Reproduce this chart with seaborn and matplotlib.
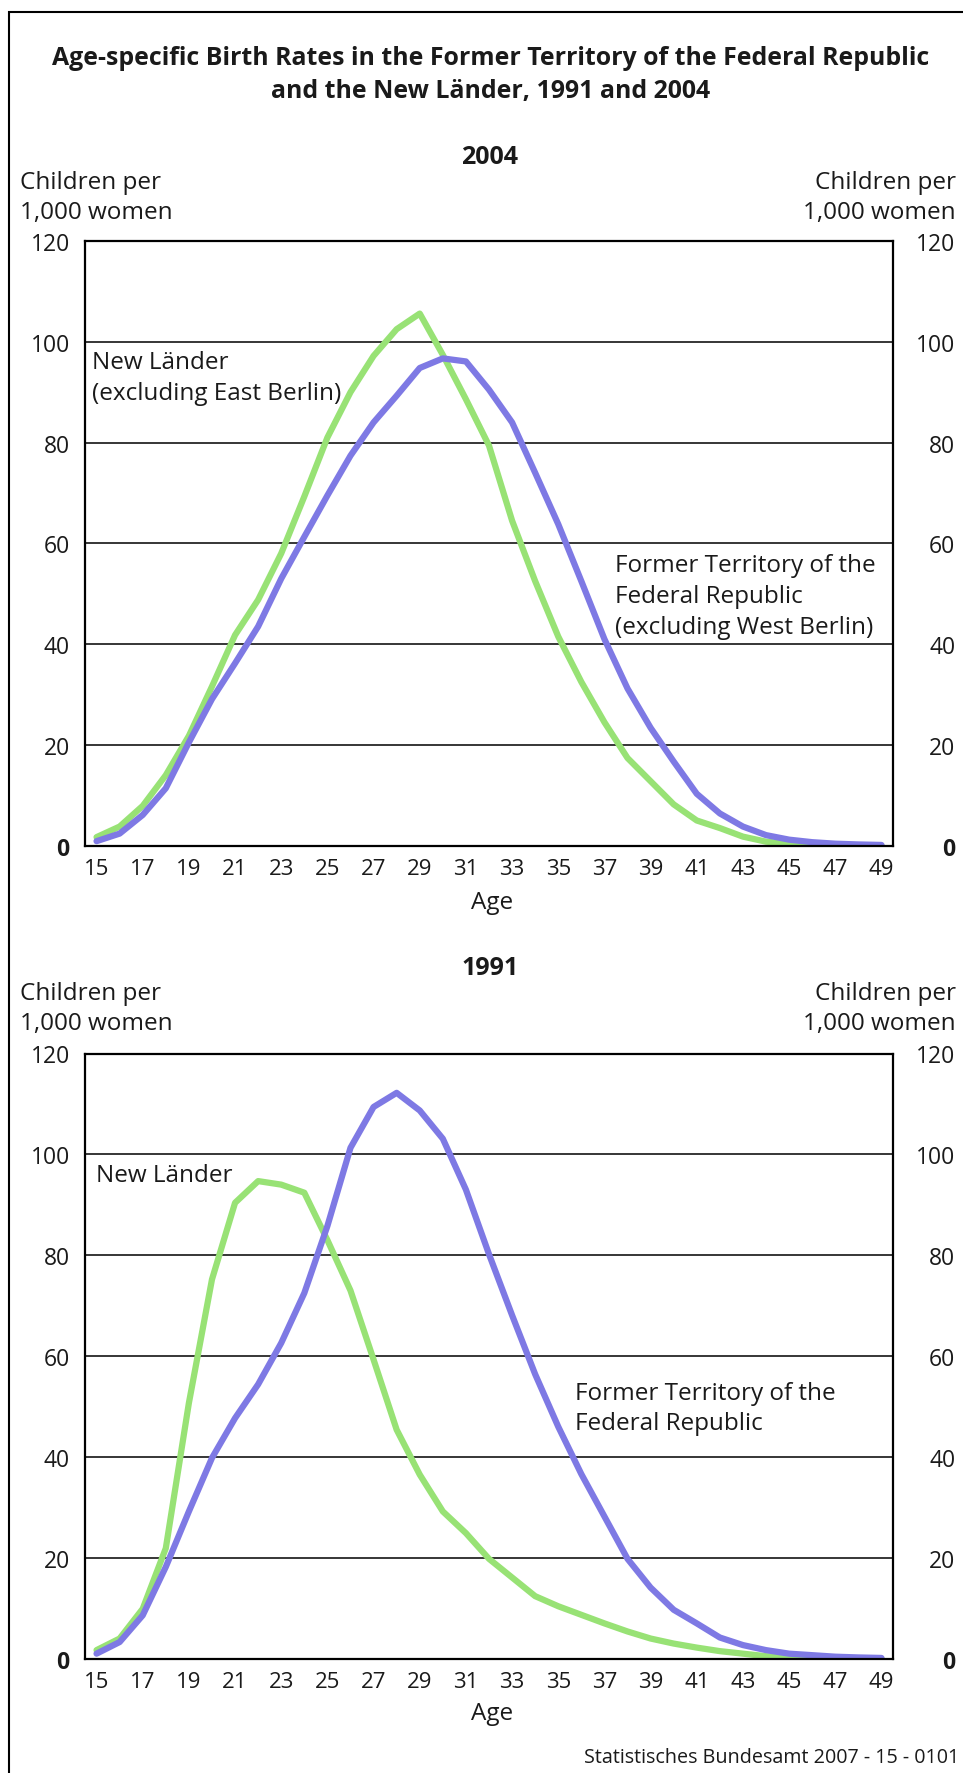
"""
Age-specific birth rates, former territory vs. new Laender, 1991 and 2004.
Two stacked line panels in the Destatis style, saved to out.png.
"""
import matplotlib

matplotlib.use("Agg")
import matplotlib.pyplot as plt
import pandas as pd
import seaborn as sns

AGES = list(range(15, 50))

# children per 1,000 women
NEW_2004 = [1.7, 3.8, 7.9, 14.0, 21.8, 31.6, 41.8, 48.8, 58.0, 69.3,
            81.0, 90.0, 97.2, 102.5, 105.6, 97.4, 88.6, 79.4, 64.5, 52.5,
            41.5, 32.5, 24.5, 17.4, 12.8, 8.2, 5.0, 3.5, 1.8, 0.8,
            0.4, 0.2, 0.1, 0.05, 0.02]
FORMER_2004 = [0.9, 2.4, 6.1, 11.4, 20.5, 29.1, 36.2, 43.5, 53.0, 61.3,
               69.5, 77.4, 84.0, 89.3, 94.8, 96.7, 96.1, 90.5, 84.0, 74.0,
               63.8, 52.5, 41.0, 31.2, 23.4, 16.7, 10.3, 6.4, 3.8, 2.1,
               1.2, 0.7, 0.4, 0.25, 0.15]
NEW_1991 = [1.7, 4.0, 9.9, 21.9, 50.7, 75.2, 90.4, 94.7, 94.0, 92.4,
            83.0, 73.0, 59.3, 45.4, 36.5, 29.2, 24.9, 19.8, 16.1, 12.4,
            10.4, 8.7, 7.0, 5.4, 4.0, 3.0, 2.2, 1.5, 1.0, 0.5,
            0.3, 0.15, 0.1, 0.05, 0.02]
FORMER_1991 = [1.0, 3.3, 8.6, 18.2, 29.2, 39.8, 47.7, 54.4, 62.6, 72.5,
               85.8, 101.3, 109.4, 112.2, 108.7, 103.1, 93.0, 80.2, 68.1, 56.4,
               46.0, 36.6, 28.2, 19.8, 14.1, 9.7, 7.0, 4.2, 2.7, 1.7,
               1.0, 0.7, 0.4, 0.25, 0.15]

Y_TICKS = [0, 20, 40, 60, 80, 100, 120]
X_LABEL_AGES = [a for a in AGES if a % 2 == 1]

GREEN = "#98E275"
BLUE = "#7E79E4"
INK = "#1a1a1a"
TXT = 17.5

W, H = 963, 1774


def fx(x):
    return x / W


def fy(y):
    return 1 - y / H


def draw_panel(ax, new_vals, former_vals):
    df = pd.DataFrame({
        "age": AGES * 2,
        "rate": new_vals + former_vals,
        "region": ["new"] * len(AGES) + ["former"] * len(AGES),
    })
    sns.lineplot(data=df, x="age", y="rate", hue="region",
                 hue_order=["new", "former"], palette=[GREEN, BLUE],
                 linewidth=4.5, legend=False, ax=ax)

    ax.set_xlim(14.5, 49.5)
    ax.set_ylim(0, 120)
    ax.set_xlabel("")
    ax.set_ylabel("")

    # tick marks sit on the category edges, long and short in turn
    edges = [a - 0.5 for a in AGES] + [49.5]
    ax.set_xticks(edges[0::2])
    ax.set_xticks(edges[1::2], minor=True)
    ax.tick_params(axis="x", which="major", length=8, width=1.3,
                   direction="out", color="black", labelbottom=False)
    ax.tick_params(axis="x", which="minor", length=4.5, width=1.3,
                   direction="out", color="black")

    # the age labels are centred on the categories
    sec = ax.secondary_xaxis("bottom")
    sec.set_xticks(X_LABEL_AGES, [str(a) for a in X_LABEL_AGES])
    sec.tick_params(length=0, pad=9, labelsize=16, labelcolor=INK)
    sec.spines["bottom"].set_visible(False)

    ax.set_yticks(Y_TICKS, [str(v) for v in Y_TICKS])
    ax.tick_params(axis="y", length=0, pad=11, labelsize=16.5, labelcolor=INK)
    ax.get_yticklabels()[0].set_fontweight("bold")
    ax.yaxis.grid(True, color="black", linewidth=1.1)
    ax.xaxis.grid(False)
    for sp in ax.spines.values():
        sp.set_color("black")
        sp.set_linewidth(1.6)

    right = ax.twinx()
    right.set_ylim(0, 120)
    right.set_yticks(Y_TICKS, [str(v) for v in Y_TICKS], ha="right")
    right.tick_params(axis="y", length=0, pad=45, labelsize=16.5,
                      labelcolor=INK)
    right.get_yticklabels()[0].set_fontweight("bold")
    for sp in right.spines.values():
        sp.set_visible(False)


def axis_caption(fig, top, year):
    # year heading, the "Children per 1,000 women" captions and the x title
    fig.text(fx(490), fy(top + 164), year, ha="center", va="baseline",
             fontsize=18, fontweight="bold", color=INK)
    for x, ha in [(20, "left"), (956, "right")]:
        fig.text(fx(x), fy(top + 189), "Children per", ha=ha,
                 va="baseline", fontsize=TXT, color=INK)
        fig.text(fx(x), fy(top + 219), "1,000 women", ha=ha,
                 va="baseline", fontsize=TXT, color=INK)
    fig.text(fx(492), fy(top + 909), "Age", ha="center", va="baseline",
             fontsize=TXT, color=INK)


def main():
    sns.set_style("white")
    plt.rcParams["font.family"] = ["Open Sans", "DejaVu Sans"]

    fig = plt.figure(figsize=(W / 100, H / 100), dpi=100)

    # page frame (only top and left edges are inside the picture)
    fig.add_artist(plt.Rectangle((fx(9), fy(H + 20)), 1.2, fy(12.7) - fy(H + 20),
                                 transform=fig.transFigure, fill=False,
                                 edgecolor="black", linewidth=1.5))

    fig.text(fx(491), fy(65), "Age-specific Birth Rates in the Former Territory "
             "of the Federal Republic", ha="center", va="baseline",
             fontsize=17.9, fontweight="bold", color=INK)
    fig.text(fx(491), fy(98), "and the New Länder, 1991 and 2004",
             ha="center", va="baseline", fontsize=17.9, fontweight="bold",
             color=INK)

    ax_top = fig.add_axes([fx(85), fy(846.7), (893 - 85) / W, (846.7 - 242) / H])
    draw_panel(ax_top, NEW_2004, FORMER_2004)
    axis_caption(fig, 0, "2004")
    ax_top.text(fx(92), fy(369), "New Länder", transform=fig.transFigure,
                fontsize=TXT, color=INK, va="baseline")
    ax_top.text(fx(92), fy(400.5), "(excluding East Berlin)",
                transform=fig.transFigure, fontsize=TXT, color=INK, va="baseline")
    for i, line in enumerate(["Former Territory of the", "Federal Republic",
                              "(excluding West Berlin)"]):
        ax_top.text(fx(615), fy(572 + 31 * i), line, transform=fig.transFigure,
                    fontsize=TXT, color=INK, va="baseline")

    ax_bot = fig.add_axes([fx(85), fy(1659.7), (893 - 85) / W, (1659.7 - 1054.5) / H])
    draw_panel(ax_bot, NEW_1991, FORMER_1991)
    axis_caption(fig, 811, "1991")
    ax_bot.text(fx(96), fy(1182), "New Länder", transform=fig.transFigure,
                fontsize=TXT, color=INK, va="baseline")
    for i, line in enumerate(["Former Territory of the", "Federal Republic"]):
        ax_bot.text(fx(575), fy(1400 + 30.5 * i), line, transform=fig.transFigure,
                    fontsize=TXT, color=INK, va="baseline")

    fig.text(fx(959), fy(1763), "Statistisches Bundesamt 2007 - 15 - 0101",
             ha="right", va="baseline", fontsize=14.2, color=INK)

    fig.savefig("out.png", dpi=100)


if __name__ == "__main__":
    main()
